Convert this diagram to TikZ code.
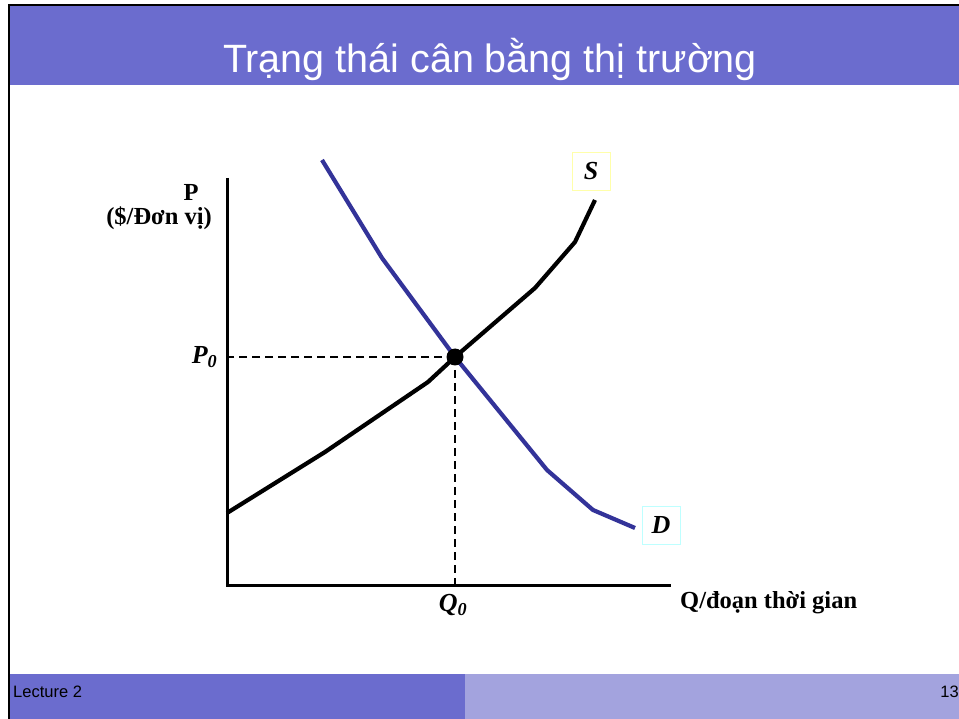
\documentclass[tikz,border=0pt]{standalone}
\usepackage{fontspec}
\setmainfont{Liberation Serif}
\setsansfont{Liberation Sans}
\usetikzlibrary{positioning}
\definecolor{slidebar}{RGB}{107,108,206}
\definecolor{slidelight}{RGB}{163,163,222}
\definecolor{demand}{RGB}{51,51,153}
\definecolor{sbox}{RGB}{255,255,170}
\definecolor{dbox}{RGB}{190,255,255}

\begin{document}
\begin{tikzpicture}[x=1pt, y=-1pt, font=\bfseries\fontsize{20}{22}\selectfont]
    \tikzstyle{curve}=[line width=4.2pt, line join=round]
    \tikzstyle{axis}=[line width=3pt]
    \tikzstyle{guide}=[line width=2pt, dash pattern=on 8pt off 5pt]
    \tikzstyle{tag}=[font=\bfseries\itshape\fontsize{26}{26}\selectfont,
      minimum width=38pt, minimum height=38pt, line width=0.8pt, inner sep=0pt]
    \tikzstyle{lbl}=[font=\bfseries\fontsize{24.5}{26}\selectfont, inner sep=0pt]

    \useasboundingbox (0,0) rectangle (959,719);
    \fill[white] (0,0) rectangle (959,719);

    % slide frame, title and footer
    \fill[slidebar] (9,6) rectangle (959,85);
    \fill[slidebar] (9,674) rectangle (465,719);
    \fill[slidelight] (465,674) rectangle (959,719);
    \draw[line width=2.6pt] (9,719) -- (9,5) -- (959,5);
    \node[text=white, font=\sffamily\fontsize{39.5}{42}\selectfont] (title) at (490,59)
      {Trạng thái cân bằng thị trường};
    \node[anchor=west, font=\sffamily\fontsize{16.5}{18}\selectfont, inner sep=0pt] (lect) at (13,692) {Lecture 2};
    \node[anchor=east, font=\sffamily\fontsize{16.5}{18}\selectfont, inner sep=0pt] (page) at (959,692) {13};

    % axes
    \coordinate (O) at (227,585);
    \coordinate (ytop) at (227,178);
    \coordinate (xend) at (671,585);
    \draw[axis] (ytop) -- (O) -- (xend);

    % equilibrium
    \coordinate (E) at (455,357);
    \draw[guide] (E) -- (227,357);
    \draw[guide] (E) -- (455,585);

    % demand and supply
    \draw[curve, demand] (322,160) -- (382,258) -- (E) -- (547,470) -- (593,510) -- (635,528);
    \draw[curve] (227,513) -- (325,452) -- (428,382) -- (E) -- (535,288) -- (575,242) -- (595,200);
    \fill (E) circle (8.5pt);

    % labels
    \node[lbl] (ylab) at (191,192) {P};
    \node[lbl] (yunit) at (159,218) {(\$/Đơn vị)};
    \node[lbl, anchor=west] (xlab) at (680,603) {Q/đoạn thời gian};
    \node[tag, anchor=east] (p0) at (224,357) {P\textsubscript{0}};
    \node[tag, anchor=north] (q0) at (453,586) {Q\textsubscript{0}};
    \node[tag, draw=sbox] (S) at (591,171) {S};
    \node[tag, draw=dbox] (D) at (661,525) {D};
\end{tikzpicture}
\end{document}
